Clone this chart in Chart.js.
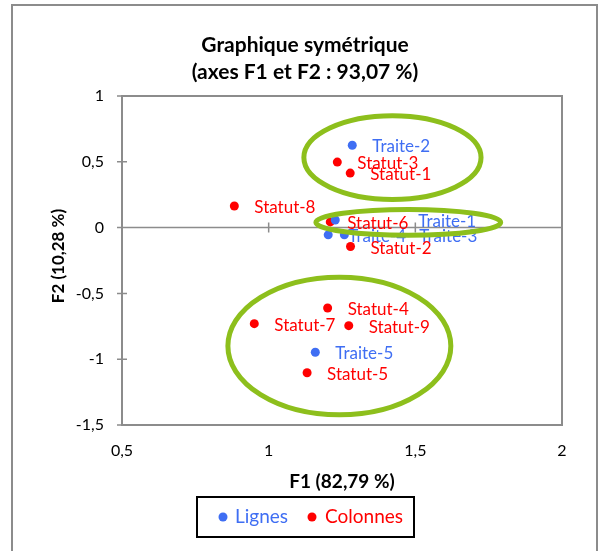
<!DOCTYPE html>
<html>
<head>
<meta charset="utf-8">
<script src="https://cdn.jsdelivr.net/npm/chart.js@4"></script>
<style>
html,body{margin:0;padding:0;background:#fff;}
canvas{display:block;}
</style>
</head>
<body>
<canvas id="c" width="601" height="551"></canvas>
<script>
// ---- data ----
const ligneNames = ['Traite-1','Traite-2','Traite-3','Traite-4','Traite-5'];
const ligneF1 = [1.227, 1.285, 1.258, 1.203, 1.159];
const ligneF2 = [0.058, 0.626, -0.055, -0.055, -0.947];

const colonneNames = ['Statut-1','Statut-2','Statut-3','Statut-4','Statut-5','Statut-6','Statut-7','Statut-8','Statut-9'];
const colonneF1 = [1.278, 1.279, 1.234, 1.201, 1.131, 1.210, 0.951, 0.883, 1.273];
const colonneF2 = [0.414, -0.144, 0.498, -0.611, -1.103, 0.043, -0.730, 0.164, -0.745];

const xTicks = [0.5, 1, 1.5, 2];
const yTicks = [-1.5, -1, -0.5, 0, 0.5, 1];

const titleLines = ['Graphique symétrique', '(axes F1 et F2 : 93,07 %)'];
const xTitle = 'F1 (82,79 %)';
const yTitle = 'F2 (10,28 %)';
const seriesNames = ['Lignes', 'Colonnes'];

// ---- styles ----
const BLUE = '#3f6ef3';
const RED = '#ff0000';
const GREEN = '#8dbf1c';
const AXIS = '#8c8c8c';
const FONT = 'Lato, "Open Sans", sans-serif';

const fmt = v => String(v).replace('.', ',');

const toPts = (xs, ys) => xs.map((x, i) => ({x: x, y: ys[i]}));

const decor = {
  id: 'decor',
  beforeDatasetsDraw(chart) {
    const {ctx, chartArea: a, scales: {x, y}} = chart;
    ctx.save();
    // outer frame
    ctx.strokeStyle = AXIS;
    ctx.lineWidth = 2;
    ctx.beginPath();
    ctx.moveTo(12, 560); ctx.lineTo(12, 5); ctx.lineTo(597, 5); ctx.lineTo(597, 560);
    ctx.stroke();
    // plot border
    ctx.lineWidth = 2;
    ctx.strokeRect(a.left, a.top, a.right - a.left, a.bottom - a.top);
    // horizontal axis at y = 0
    const y0 = y.getPixelForValue(0);
    ctx.lineWidth = 1.5;
    ctx.beginPath();
    ctx.moveTo(a.left, y0); ctx.lineTo(a.right, y0);
    xTicks.forEach(v => {
      const px = x.getPixelForValue(v);
      ctx.moveTo(px, y0 - 5); ctx.lineTo(px, y0 + 5);
    });
    yTicks.forEach(v => {
      const py = y.getPixelForValue(v);
      ctx.moveTo(a.left - 5, py); ctx.lineTo(a.left + 5, py);
    });
    ctx.stroke();
    ctx.restore();
  },
  afterDatasetsDraw(chart, args, opts) {
    const {ctx, chartArea: a, scales: {x, y}} = chart;
    ctx.save();
    // point labels
    ctx.font = '17px ' + FONT;
    ctx.textBaseline = 'middle';
    ctx.textAlign = 'left';
    chart.data.datasets.forEach((ds, di) => {
      const meta = chart.getDatasetMeta(di);
      ctx.fillStyle = ds.labelColor;
      meta.data.forEach((el, i) => {
        const name = ds.names[i];
        const dx = (opts.shift && opts.shift[name]) || 20;
        ctx.fillText(name, el.x + dx, el.y + 1.5);
      });
    });
    // ellipses (in data units)
    ctx.strokeStyle = GREEN;
    ctx.lineWidth = 5;
    (opts.ellipses || []).forEach(e => {
      const cx = x.getPixelForValue(e.cx), cy = y.getPixelForValue(e.cy);
      const rx = Math.abs(x.getPixelForValue(e.cx + e.rx) - cx);
      const ry = Math.abs(y.getPixelForValue(e.cy + e.ry) - cy);
      ctx.beginPath();
      ctx.ellipse(cx, cy, rx, ry, 0, 0, Math.PI * 2);
      ctx.stroke();
    });
    // titles
    ctx.fillStyle = '#000';
    ctx.textAlign = 'center';
    ctx.font = 'bold 21px ' + FONT;
    ctx.fillText(titleLines[0], 305, 45);
    ctx.fillText(titleLines[1], 305, 72);
    ctx.font = 'bold 19px ' + FONT;
    ctx.fillText(xTitle, (a.left + a.right) / 2, 482);
    ctx.save();
    ctx.translate(59, 256);
    ctx.rotate(-Math.PI / 2);
    ctx.font = 'bold 17px ' + FONT;
    ctx.fillText(yTitle, 0, 0);
    ctx.restore();
    // legend
    ctx.strokeStyle = '#000';
    ctx.lineWidth = 2;
    ctx.strokeRect(197, 497, 217, 40);
    ctx.font = '19px ' + FONT;
    ctx.textAlign = 'left';
    ctx.fillStyle = BLUE;
    ctx.beginPath(); ctx.arc(223, 517, 4.5, 0, Math.PI * 2); ctx.fill();
    ctx.fillText(seriesNames[0], 235, 517);
    ctx.fillStyle = RED;
    ctx.beginPath(); ctx.arc(312, 517, 4.5, 0, Math.PI * 2); ctx.fill();
    ctx.fillText(seriesNames[1], 325, 517);
    ctx.restore();
  }
};

new Chart(document.getElementById('c'), {
  type: 'scatter',
  data: {
    datasets: [
      {label: seriesNames[0], names: ligneNames, labelColor: BLUE, data: toPts(ligneF1, ligneF2),
       backgroundColor: BLUE, borderColor: BLUE, pointRadius: 4.5, pointHoverRadius: 4.5, borderWidth: 0},
      {label: seriesNames[1], names: colonneNames, labelColor: RED, data: toPts(colonneF1, colonneF2),
       backgroundColor: RED, borderColor: RED, pointRadius: 4.5, pointHoverRadius: 4.5, borderWidth: 0}
    ]
  },
  options: {
    responsive: false,
    animation: false,
    events: [],
    layout: {padding: {left: 0, right: 39, top: 96, bottom: 0}},
    plugins: {
      legend: {display: false},
      title: {display: false},
      tooltip: {enabled: false},
      decor: {
        shift: {'Traite-1': 83, 'Traite-3': 75, 'Statut-6': 17},
        ellipses: [
          {cx: 1.422, cy: 0.532, rx: 0.302, ry: 0.318},
          {cx: 1.476, cy: 0.039, rx: 0.315, ry: 0.098},
          {cx: 1.241, cy: -0.900, rx: 0.380, ry: 0.523}
        ]
      }
    },
    scales: {
      x: {
        type: 'linear', min: 0.5, max: 2,
        afterBuildTicks: s => { s.ticks = xTicks.map(v => ({value: v})); },
        afterFit: s => { s.height = 126; },
        grid: {display: false, drawTicks: false},
        border: {display: false},
        ticks: {padding: 16, color: '#000', font: {family: FONT, size: 16}, callback: v => fmt(v), maxRotation: 0}
      },
      y: {
        type: 'linear', min: -1.5, max: 1,
        afterBuildTicks: s => { s.ticks = yTicks.map(v => ({value: v})); },
        afterFit: s => { s.width = 122; },
        grid: {display: false, drawTicks: false},
        border: {display: false},
        ticks: {padding: 18, color: '#000', font: {family: FONT, size: 16}, callback: v => fmt(v)}
      }
    }
  },
  plugins: [decor]
});
</script>
</body>
</html>
